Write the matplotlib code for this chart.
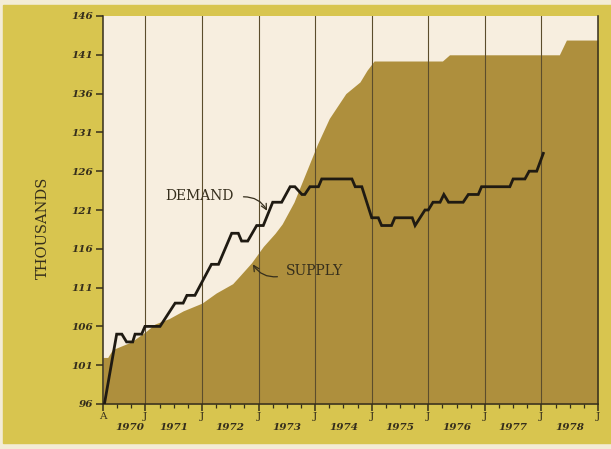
"""Housing demand vs. supply, April 1970 to January 1979 (thousands)."""
import matplotlib
matplotlib.use("Agg")
import matplotlib.pyplot as plt
from matplotlib.patches import Rectangle
from matplotlib.transforms import blended_transform_factory

# ---------------------------------------------------------------------------
# Data (x in months from April 1970)
# ---------------------------------------------------------------------------
DEMAND_MONTHS = [0.3, 2.9, 4.0, 5.0, 6.3, 6.8, 8.2, 8.9, 12.1, 15.3, 17.0, 17.8,
                 19.5, 23.0, 24.5, 27.3, 28.7, 29.4, 30.7, 32.6, 34.0, 36.0,
                 37.9, 39.7, 40.7, 42.2, 42.8, 43.9, 45.7, 46.4, 52.8, 53.5,
                 54.9, 57.0, 58.4, 59.1, 61.2, 61.9, 65.6, 66.2, 68.3, 69.0,
                 70.0, 71.5, 72.3, 73.3, 76.4, 77.5, 79.6, 80.3, 86.3, 87.0,
                 89.5, 90.4, 92.0, 93.4]
DEMAND = [96, 105, 105, 104, 104, 105, 105, 106, 106, 109, 109, 110,
          110, 114, 114, 118, 118, 117, 117, 119, 119, 122,
          122, 124, 124, 123, 123, 124, 124, 125, 125, 124,
          124, 120, 120, 119, 119, 120, 120, 119, 121, 121,
          122, 122, 123, 122, 122, 123, 123, 124, 124, 125,
          125, 126, 126, 128.3]

SUPPLY_MONTHS = [0, 1.0, 2.0, 4.0, 6.0, 9.0, 11.0, 14.0, 17.0, 21.0, 24.0,
                 27.5, 29.0, 31.5, 34.0, 36.5, 38.0, 40.5, 42.5, 45.5, 48.0,
                 51.5, 54.5, 56.0, 57.5, 72.0, 73.5, 96.8, 98.3, 105]
SUPPLY = [102, 102, 103, 103.5, 104, 105.3, 106.3, 107, 108, 109, 110.3,
          111.5, 112.5, 114.2, 116.3, 118, 119.2, 122, 125, 129.5, 132.8,
          136, 137.5, 139, 140.2, 140.2, 141, 141, 142.9, 142.9]

JAN_MONTHS = [9, 21, 33, 45, 57, 69, 81, 93, 105]
YEARS = ["1970", "1971", "1972", "1973", "1974", "1975", "1976", "1977", "1978"]
YEAR_POS = [5.6, 15, 27, 39, 51, 63, 75, 87, 99]
Y_TICKS = [96, 101, 106, 111, 116, 121, 126, 131, 136, 141, 146]

# ---------------------------------------------------------------------------
# Style
# ---------------------------------------------------------------------------
PANEL = "#d8c54f"
PAPER = "#f7eedf"
SUPPLY_COLOR = "#ae8f3d"
INK = "#352e1c"
GRID = "#5c4d2c"

fig = plt.figure(figsize=(6.11, 4.49), dpi=100, facecolor="#f3ecd6")
fig.patches.append(Rectangle((3 / 611, 1 - 443 / 449), 608 / 611, 438 / 449,
                             transform=fig.transFigure, color=PANEL,
                             zorder=-10))

ax = fig.add_axes([103 / 611, 1 - 404 / 449, 495 / 611, 388 / 449])
ax.set_facecolor(PAPER)
ax.set_xlim(0, 105)
ax.set_ylim(96, 146)

ax.fill_between(SUPPLY_MONTHS, 96, SUPPLY, color=SUPPLY_COLOR, lw=0, zorder=1)
for m in JAN_MONTHS[:-1]:
    ax.axvline(m, color=GRID, lw=0.8, zorder=2)
ax.plot(DEMAND_MONTHS, DEMAND, color="#1f1a12", lw=2.0, zorder=3,
        solid_joinstyle="miter")

# axes frame
ax.spines["top"].set_visible(False)
for side in ("left", "bottom", "right"):
    ax.spines[side].set_color(INK)
    ax.spines[side].set_linewidth(1.1)

num_font = dict(family="DejaVu Serif", style="italic", weight="bold",
                size=7.5, color=INK)

ax.set_yticks(Y_TICKS)
ax.set_yticklabels([str(v) for v in Y_TICKS], **num_font)
ax.tick_params(axis="y", length=5, width=1.1, color=INK, pad=2)

ax.set_xticks([0] + JAN_MONTHS)
ax.set_xticklabels(["A"] + ["J"] * len(JAN_MONTHS),
                   family="DejaVu Serif", size=7.5, color=INK)
ax.set_xticks(list(range(3, 105, 3)), minor=True)
ax.tick_params(axis="x", which="major", length=5, width=1.1, color=INK, pad=1)
ax.tick_params(axis="x", which="minor", length=3, width=0.9, color=INK)

trans = blended_transform_factory(ax.transData, ax.transAxes)
for pos, label in zip(YEAR_POS, YEARS):
    ax.text(pos, -0.06, label, transform=trans, ha="center", va="center",
            **num_font)

fig.text(43 / 611, 1 - 228 / 449, "THOUSANDS", rotation=90, ha="center",
         va="center", family="DejaVu Serif", size=10.5, color=INK)

# series labels with curved pointers
label_font = dict(family="DejaVu Serif", size=10, color=INK, zorder=4)
ax.text(20.4, 122.8, "DEMAND", ha="center", va="center", **label_font)
ax.annotate("", xy=(34.8, 120.9), xytext=(29.8, 122.7),
            arrowprops=dict(arrowstyle="->", color=INK, lw=0.9,
                            shrinkA=0, shrinkB=0,
                            connectionstyle="arc3,rad=-0.3"))
ax.text(44.8, 113.1, "SUPPLY", ha="center", va="center", **label_font)
ax.annotate("", xy=(31.8, 114.0), xytext=(37.0, 112.4),
            arrowprops=dict(arrowstyle="->", color=INK, lw=0.9,
                            shrinkA=0, shrinkB=0,
                            connectionstyle="arc3,rad=-0.3"))

fig.savefig("out.png", dpi=100, facecolor=fig.get_facecolor())
